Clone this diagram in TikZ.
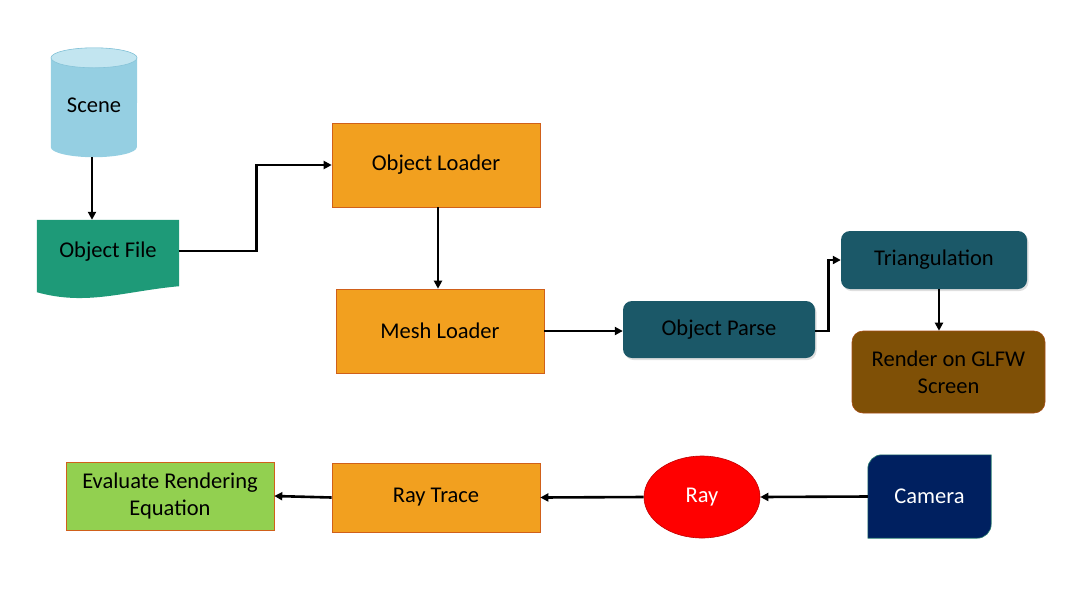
\documentclass[tikz,border=0pt]{standalone}
\usepackage{fontspec}
\setmainfont{Carlito}
\usetikzlibrary{arrows.meta,shapes.geometric,shadows}

\definecolor{boxorange}{HTML}{F2A01F}
\definecolor{edgeorange}{HTML}{D0601A}
\definecolor{filegreen}{HTML}{1E9A78}
\definecolor{darkteal}{HTML}{1B5868}
\definecolor{renderbrown}{HTML}{7F5006}
\definecolor{evalgreen}{HTML}{92D050}
\definecolor{raired}{HTML}{FF0000}
\definecolor{camnavy}{HTML}{002060}
\definecolor{cambord}{HTML}{2A7F70}
\definecolor{cylbody}{HTML}{95CFE2}
\definecolor{cyltop}{HTML}{C2E5F0}
\definecolor{cylbord}{HTML}{86C3D8}

\begin{document}
\begin{tikzpicture}[x=1pt,y=-1pt]
\tikzstyle{every node}+=[font=\fontsize{22.5}{27}\selectfont, align=center, inner sep=0pt]
\tikzstyle{orangebox}=[rectangle, fill=boxorange, draw=edgeorange, line width=0.6pt]
\tikzstyle{tealbox}=[rectangle, rounded corners=9pt, fill=darkteal, drop shadow={opacity=0.25,shadow xshift=1.5pt,shadow yshift=-2pt}]
\tikzstyle{arr}=[black, line width=2.6pt, -{Triangle[length=8pt,width=8pt]}]
\useasboundingbox (0,0) rectangle (1076,590);

% scene cylinder
\node (scene) [minimum width=86pt, minimum height=109pt] at (94,102.5) {};
\fill [cylbody] ([yshift=-10pt]scene.north west) -- ([yshift=10pt]scene.south west)
  arc (180:360:43pt and 10pt) -- ([yshift=-10pt]scene.north east) arc (0:180:43pt and 10pt) -- cycle;
\draw [cylbord, line width=0.6pt, fill=cyltop] ([yshift=-10pt]scene.north) ellipse (43pt and 10pt);
\node at ([yshift=-3pt]scene.center) {Scene};

% object file (document)
\node (objfile) [minimum width=142pt, minimum height=62pt] at (108,251) {};
\fill [filegreen] (objfile.north west) -- ([yshift=-10pt]objfile.south west)
  .. controls +(50pt,-14pt) and +(-55pt,-5pt) .. ([yshift=-4pt]objfile.south east)
  -- (objfile.north east) -- cycle;
\node at ([yshift=-1pt]objfile.center) {Object File};

\node (objloader) [orangebox, minimum width=208pt, minimum height=84pt] at (436,165) {Object Loader};
\node (mesh) [orangebox, minimum width=208pt, minimum height=84pt] at (440,331) {Mesh Loader};
\node (objparse) [tealbox, minimum width=192pt, minimum height=57pt] at (719,329.5) {Object Parse};
\node (triang) [tealbox, minimum width=186pt, minimum height=58pt] at (934,260) {Triangulation};
\node (render) [rectangle, rounded corners=11pt, fill=renderbrown, draw=edgeorange!80!black, line width=0.6pt,
  minimum width=193pt, minimum height=82pt] at (948.5,372) {Render on GLFW\\Screen};

\node (evalre) [rectangle, fill=evalgreen, draw=edgeorange, line width=0.6pt,
  minimum width=208pt, minimum height=68pt] at (170,496) {Evaluate Rendering\\Equation};
\node (raytrace) [orangebox, minimum width=208pt, minimum height=69pt] at (436,497.5) {Ray Trace};
\node (ray) [ellipse, fill=raired, draw=raired!75!black, line width=0.6pt, text=white,
  minimum width=116pt, minimum height=82pt] at (702,497) {Ray};

% camera (snipped round corners)
\node (cam) [minimum width=123pt, minimum height=83pt] at (929.5,496.5) {};
\filldraw [fill=camnavy, draw=cambord, line width=0.6pt] (cam.south west) -- ([yshift=-14pt]cam.north west)
  arc (180:90:14pt) -- (cam.north east) -- ([yshift=14pt]cam.south east) arc (0:-90:14pt) -- cycle;
\node [text=white] at (cam.center) {Camera};

% connectors
\draw [arr] ([xshift=-2pt]scene.south) -- ([xshift=-2pt]scene.south |- objfile.north);
\draw [arr] (objfile.east) -- ++(77,0) |- (objloader.west);
\draw [arr] ([xshift=2pt]objloader.south) -- ([xshift=2pt]objloader.south |- mesh.north);
\draw [arr] (mesh.east) -- (mesh.east -| objparse.west);
\draw [arr] ([yshift=-1.5pt]objparse.east) -- ++(13,0) |- (triang.west);
\draw [arr] ([xshift=5pt]triang.south) -- ([xshift=5pt]triang.south |- render.north);
\draw [arr] (cam.west) -- (ray.east);
\draw [arr] (ray.west) -- (raytrace.east);
\draw [arr] (raytrace.west) -- (evalre.east);
\end{tikzpicture}
\end{document}
